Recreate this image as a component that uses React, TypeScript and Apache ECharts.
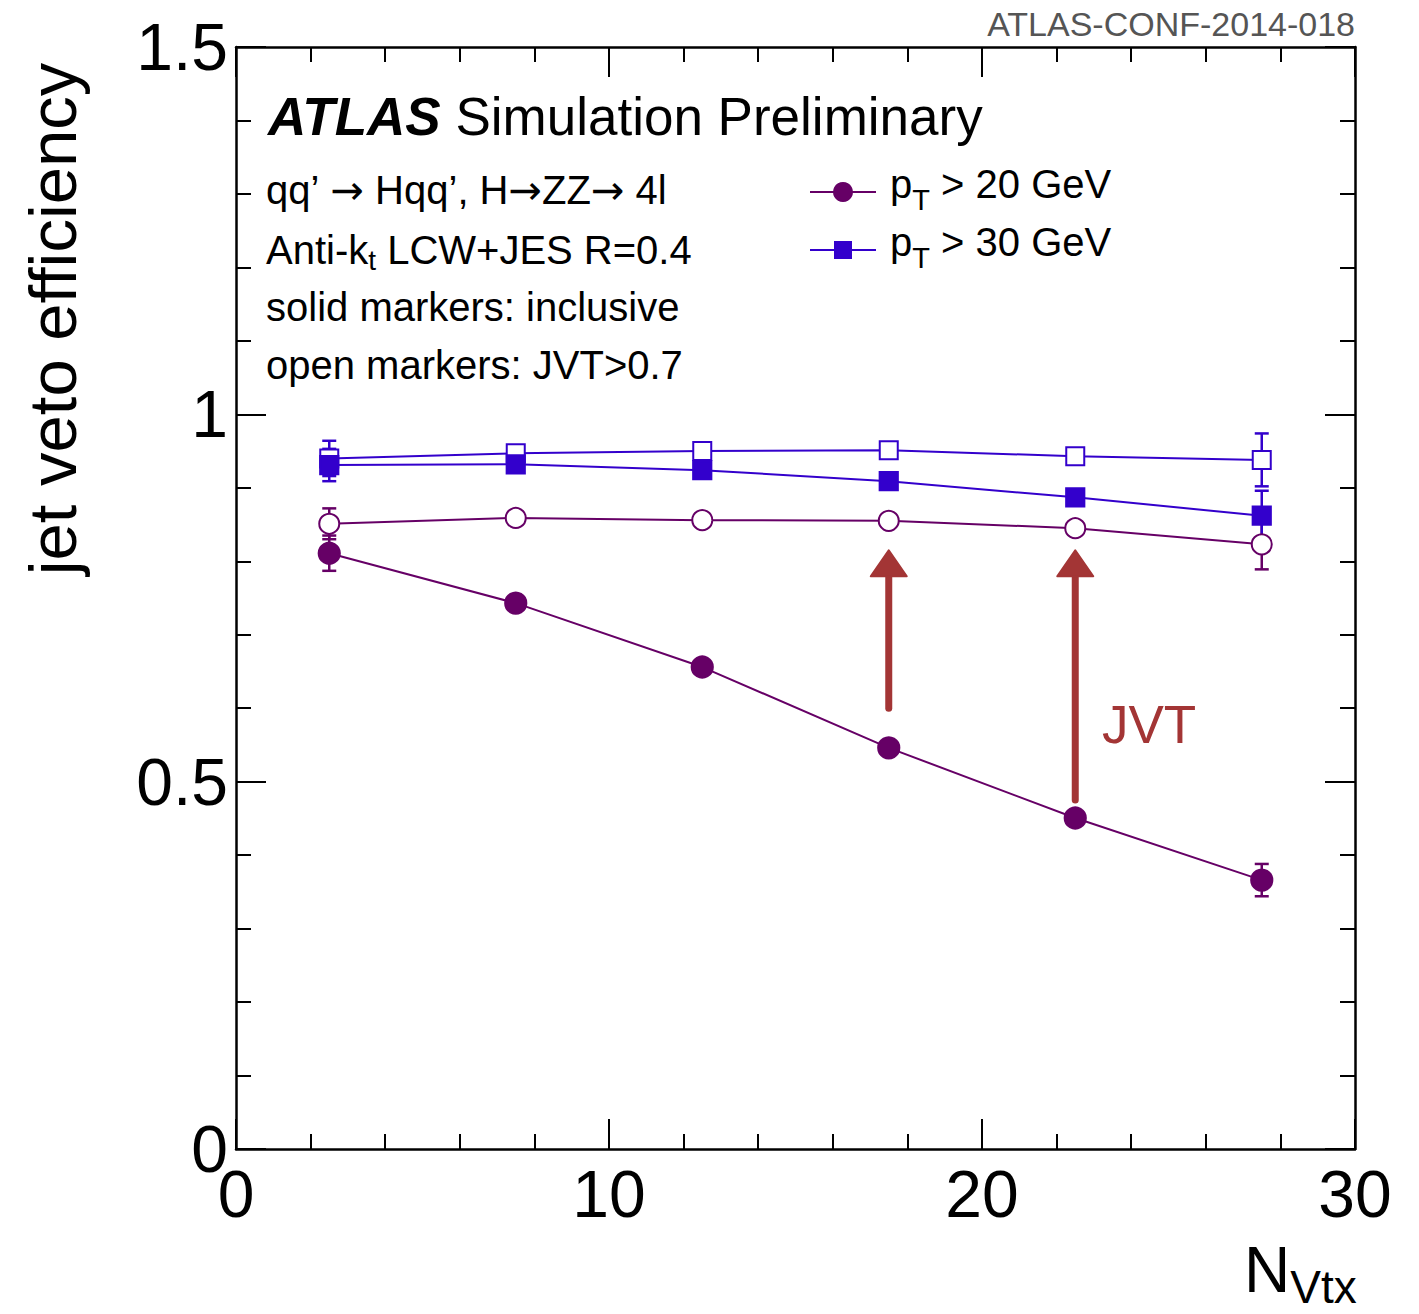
import React, { useEffect, useRef } from "react";
import * as echarts from "echarts";

const xVals = [2.5, 7.5, 12.5, 17.5, 22.5, 27.5];
const eff20 = [0.811, 0.743, 0.656, 0.546, 0.4505, 0.366];
const err20 = [0.024, 0.008, 0.008, 0.008, 0.008, 0.022];
const effJvt20 = [0.851, 0.859, 0.856, 0.855, 0.845, 0.823];
const errJvt20 = [0.021, 0.006, 0.006, 0.006, 0.006, 0.034];
const eff30 = [0.931, 0.932, 0.924, 0.909, 0.887, 0.862];
const err30 = [0.022, 0.006, 0.006, 0.006, 0.006, 0.034];
const effJvt30 = [0.940, 0.947, 0.950, 0.951, 0.943, 0.938];
const errJvt30 = [0.024, 0.006, 0.006, 0.006, 0.006, 0.036];
// arrows: [x, yStart, yEnd]
const arrows = [
  [17.5, 0.6, 0.815],
  [22.5, 0.475, 0.815],
];
const yTickLabels: Record<string, string> = { "0": "0", "0.5": "0.5", "1": "1", "1.5": "1.5" };

const PURPLE = "#660066";
const BLUE = "#3300cc";
const RED = "#a33535";
const FONT = "'Liberation Sans', Arial, Helvetica, sans-serif";
const ARROWFONT = "'DejaVu Sans', sans-serif";

function pairs(ys: number[]) {
  return xVals.map((x, i) => [x, ys[i]]);
}
function errData(ys: number[], es: number[]) {
  return xVals.map((x, i) => [x, ys[i], es[i]]);
}

function errSeries(ys: number[], es: number[], color: string) {
  return {
    type: "custom",
    data: errData(ys, es),
    z: 1,
    renderItem: (params: any, api: any) => {
      const x = api.value(0);
      const y = api.value(1);
      const e = api.value(2);
      const top = api.coord([x, y + e]);
      const bot = api.coord([x, y - e]);
      const cap = 7;
      const style = { stroke: color, lineWidth: 2.5 };
      return {
        type: "group",
        children: [
          { type: "line", shape: { x1: top[0], y1: top[1], x2: bot[0], y2: bot[1] }, style },
          { type: "line", shape: { x1: top[0] - cap, y1: top[1], x2: top[0] + cap, y2: top[1] }, style },
          { type: "line", shape: { x1: bot[0] - cap, y1: bot[1], x2: bot[0] + cap, y2: bot[1] }, style },
        ],
      };
    },
  };
}

function lineSeries(ys: number[], color: string, symbol: string, size: number, z: number) {
  return {
    type: "line",
    data: pairs(ys),
    symbol,
    symbolSize: size,
    showAllSymbol: true,
    z,
    lineStyle: { color, width: 2 },
    itemStyle: { color, borderColor: color, borderWidth: 2.2 },
  };
}

export default function App() {
  const ref = useRef<HTMLDivElement>(null);
  useEffect(() => {
    if (!ref.current) return;
    const chart = echarts.init(ref.current, undefined, { renderer: "svg" });
    const axisLine = { show: true, onZero: false, lineStyle: { color: "#000", width: 2.5 } };
    const xCommon = {
      type: "value",
      min: 0,
      max: 30,
      interval: 10,
      splitLine: { show: false },
      axisLine,
      axisTick: { show: true, inside: true, length: 30, lineStyle: { color: "#000", width: 2 } },
      minorTick: { show: true, splitNumber: 5, length: 15, lineStyle: { color: "#000", width: 2 } },
      minorSplitLine: { show: false },
    };
    const yCommon = {
      type: "value",
      min: 0,
      max: 1.5,
      interval: 0.5,
      splitLine: { show: false },
      axisLine,
      axisTick: { show: true, inside: true, length: 30, lineStyle: { color: "#000", width: 2 } },
      minorTick: { show: true, splitNumber: 5, length: 15, lineStyle: { color: "#000", width: 2 } },
      minorSplitLine: { show: false },
    };
    const arrowTxt = { fontSize: 40, fontFamily: ARROWFONT, fill: "#000" };
    const infoTxt = { fontSize: 40, fontFamily: FONT, fill: "#000" };
    chart.setOption({
      animation: false,
      backgroundColor: "#fff",
      grid: { left: 236, top: 47, right: 64, bottom: 165, containLabel: false },
      xAxis: [
        {
          ...xCommon,
          position: "bottom",
          axisLabel: { show: true, fontSize: 66, lineHeight: 50, color: "#000", fontFamily: FONT, margin: 20 },
        },
        { ...xCommon, position: "top", axisLabel: { show: false } },
      ],
      yAxis: [
        {
          ...yCommon,
          position: "left",
          axisLabel: {
            show: true,
            fontSize: 66,
            lineHeight: 40,
            color: "#000",
            fontFamily: FONT,
            margin: 8,
            formatter: (v: number) => yTickLabels[String(v)] ?? String(v),
          },
        },
        { ...yCommon, position: "right", axisLabel: { show: false } },
      ],
      series: [
        errSeries(eff20, err20, PURPLE),
        errSeries(effJvt20, errJvt20, PURPLE),
        errSeries(eff30, err30, BLUE),
        errSeries(effJvt30, errJvt30, BLUE),
        lineSeries(effJvt20, PURPLE, "emptyCircle", 20, 3),
        lineSeries(eff20, PURPLE, "circle", 21, 4),
        lineSeries(effJvt30, BLUE, "emptyRect", 18, 3),
        lineSeries(eff30, BLUE, "rect", 18, 4),
        {
          type: "custom",
          data: arrows,
          z: 2,
          renderItem: (params: any, api: any) => {
            const x = api.value(0);
            const p0 = api.coord([x, api.value(1)]);
            const p1 = api.coord([x, api.value(2)]);
            const headH = 26;
            const headW = 18;
            return {
              type: "group",
              children: [
                {
                  type: "line",
                  shape: { x1: p0[0], y1: p0[1], x2: p1[0], y2: p1[1] + headH - 2 },
                  style: { stroke: RED, lineWidth: 7, lineCap: "round" },
                },
                {
                  type: "polygon",
                  shape: {
                    points: [
                      [p1[0], p1[1]],
                      [p1[0] - headW, p1[1] + headH],
                      [p1[0] + headW, p1[1] + headH],
                    ],
                  },
                  style: { fill: RED, stroke: RED, lineWidth: 2, lineJoin: "round" },
                },
              ],
            };
          },
        },
      ],
      graphic: [
        {
          type: "text",
          right: 64,
          top: 7,
          style: { text: "ATLAS-CONF-2014-018", fontSize: 34, fill: "#555", fontFamily: FONT },
        },
        {
          type: "text",
          x: 52,
          y: 319,
          rotation: Math.PI / 2,
          style: {
            text: "jet veto efficiency",
            fontSize: 67,
            fill: "#000",
            fontFamily: FONT,
            align: "center",
            verticalAlign: "middle",
          },
        },
        {
          type: "text",
          x: 1244,
          y: 1238,
          style: {
            text: "{n|N}{s|Vtx}",
            fontFamily: FONT,
            rich: {
              n: { fontSize: 64, fill: "#000", fontFamily: FONT, lineHeight: 64 },
              s: { fontSize: 46, fill: "#000", fontFamily: FONT, padding: [34, 0, 0, 0], lineHeight: 64 },
            },
          },
        },
        {
          type: "text",
          x: 268,
          y: 90,
          style: {
            text: "{b|ATLAS}{r| Simulation Preliminary}",
            rich: {
              b: { fontSize: 53, fontWeight: "bold", fontStyle: "italic", fontFamily: FONT, fill: "#000" },
              r: { fontSize: 53, fontFamily: FONT, fill: "#000" },
            },
          },
        },
        {
          type: "text",
          x: 266,
          y: 170,
          style: {
            text: "{a|qq’ }{r|→}{a| Hqq’, H}{r|→}{a|ZZ}{r|→}{a| 4l}",
            rich: { a: infoTxt, r: arrowTxt },
          },
        },
        {
          type: "text",
          x: 266,
          y: 228,
          style: {
            text: "{a|Anti-k}{t|t}{a| LCW+JES R=0.4}",
            rich: {
              a: { ...infoTxt, lineHeight: 44 },
              t: { fontSize: 28, fontFamily: FONT, fill: "#000", padding: [20, 0, 0, 0], lineHeight: 44 },
            },
          },
        },
        {
          type: "text",
          x: 266,
          y: 287,
          style: { text: "solid markers: inclusive", ...infoTxt },
        },
        {
          type: "text",
          x: 266,
          y: 345,
          style: { text: "open markers: JVT>0.7", ...infoTxt },
        },
        // legend
        { type: "line", shape: { x1: 810, y1: 192, x2: 876, y2: 192 }, style: { stroke: PURPLE, lineWidth: 2 } },
        { type: "circle", shape: { cx: 843, cy: 192, r: 10 }, style: { fill: PURPLE } },
        { type: "line", shape: { x1: 810, y1: 250, x2: 876, y2: 250 }, style: { stroke: BLUE, lineWidth: 2 } },
        { type: "rect", shape: { x: 834, y: 241, width: 18, height: 18 }, style: { fill: BLUE } },
        {
          type: "text",
          x: 890,
          y: 161,
          style: {
            text: "{a|p}{t|T}{a| > 20 GeV}",
            rich: {
              a: { fontSize: 40, fontFamily: FONT, fill: "#000", lineHeight: 46 },
              t: { fontSize: 29, fontFamily: FONT, fill: "#000", padding: [32, 0, 0, 0], lineHeight: 46 },
            },
          },
        },
        {
          type: "text",
          x: 890,
          y: 219,
          style: {
            text: "{a|p}{t|T}{a| > 30 GeV}",
            rich: {
              a: { fontSize: 40, fontFamily: FONT, fill: "#000", lineHeight: 46 },
              t: { fontSize: 29, fontFamily: FONT, fill: "#000", padding: [32, 0, 0, 0], lineHeight: 46 },
            },
          },
        },
        {
          type: "text",
          x: 1102,
          y: 698,
          style: { text: "JVT", fontSize: 53, fontFamily: FONT, fill: RED },
        },
      ],
    });
    return () => chart.dispose();
  }, []);
  return (
    <div
      ref={ref}
      style={{ position: "absolute", left: 0, top: 0, width: 1419, height: 1314 }}
    />
  );
}
